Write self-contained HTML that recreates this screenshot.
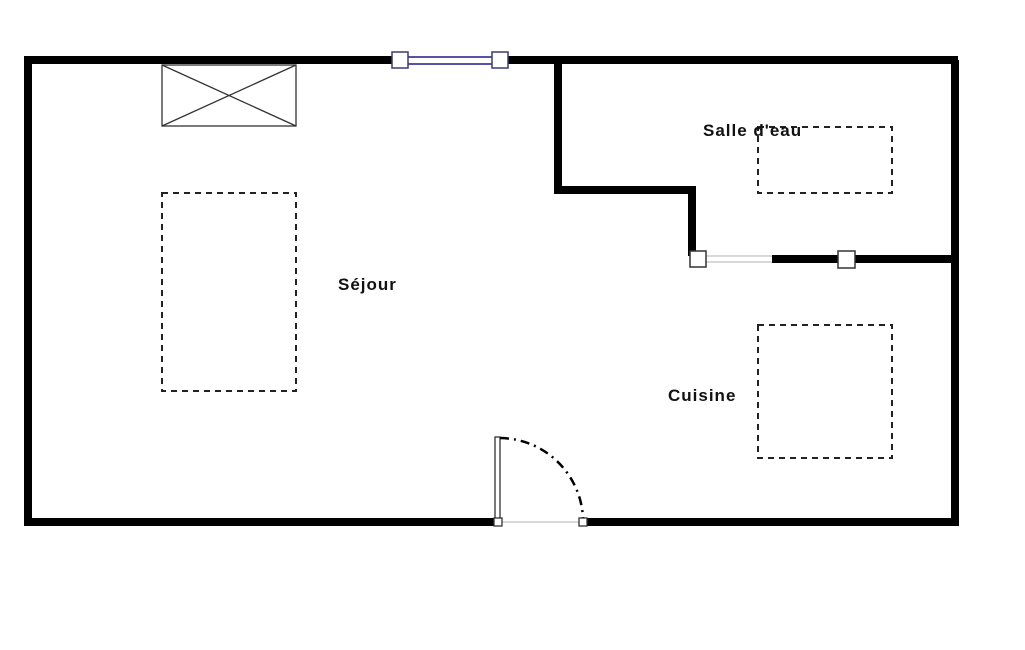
<!DOCTYPE html>
<html><head><meta charset="utf-8"><style>
html,body{margin:0;padding:0;background:#fff;}
svg{display:block}
text{font-family:"Liberation Sans",sans-serif;font-weight:bold;font-size:17px;fill:#111;letter-spacing:1px}
</style></head><body>
<svg width="1025" height="650" viewBox="0 0 1025 650" xmlns="http://www.w3.org/2000/svg">
<g stroke="#000" fill="none" stroke-width="8">
<polyline points="392,60 28,60 28,522 498,522"/>
<polyline points="508,60 958,60 955,60 955,522 583,522"/>
<polyline points="558,60 558,190 692,190 692,256"/>
<line x1="772" y1="259" x2="955" y2="259" stroke-width="8"/>
</g>
<line x1="400" y1="57" x2="500" y2="57" stroke="#5454a8" stroke-width="2"/>
<line x1="400" y1="64" x2="500" y2="64" stroke="#5454a8" stroke-width="2"/>
<rect x="392" y="52" width="16" height="16" fill="#fff" stroke="#3a3a70" stroke-width="1.5"/>
<rect x="492" y="52" width="16" height="16" fill="#fff" stroke="#3a3a70" stroke-width="1.5"/>
<line x1="698" y1="256" x2="772" y2="256" stroke="#ccc" stroke-width="1.5"/>
<line x1="698" y1="262" x2="772" y2="262" stroke="#ccc" stroke-width="1.5"/>
<rect x="690" y="251" width="16" height="16" fill="#fff" stroke="#333" stroke-width="1.5"/>
<rect x="838" y="251" width="17" height="17" fill="#fff" stroke="#333" stroke-width="1.5"/>
<line x1="502" y1="522" x2="580" y2="522" stroke="#ccc" stroke-width="1.5"/>
<rect x="495" y="437" width="5" height="85" fill="#fff" stroke="#333" stroke-width="1.3"/>
<path d="M500,438 A84,84 0 0 1 583,518" fill="none" stroke="#000" stroke-width="2.5" stroke-dasharray="9,5,2,5"/>
<rect x="494" y="518" width="8" height="8" fill="#fff" stroke="#333" stroke-width="1.3"/>
<rect x="579" y="518" width="8" height="8" fill="#fff" stroke="#333" stroke-width="1.3"/>
<g stroke="#333" stroke-width="1.3" fill="none">
<rect x="162" y="65" width="134" height="61"/>
<line x1="162" y1="65" x2="296" y2="126"/>
<line x1="296" y1="65" x2="162" y2="126"/>
</g>
<g stroke="#222" stroke-width="2" fill="none" stroke-dasharray="6,5">
<rect x="162" y="193" width="134" height="198"/>
<rect x="758" y="127" width="134" height="66"/>
<rect x="758" y="325" width="134" height="133"/>
</g>
<text x="338" y="290">Séjour</text>
<text x="703" y="136">Salle d'eau</text>
<text x="668" y="401">Cuisine</text>
</svg>
</body></html>
